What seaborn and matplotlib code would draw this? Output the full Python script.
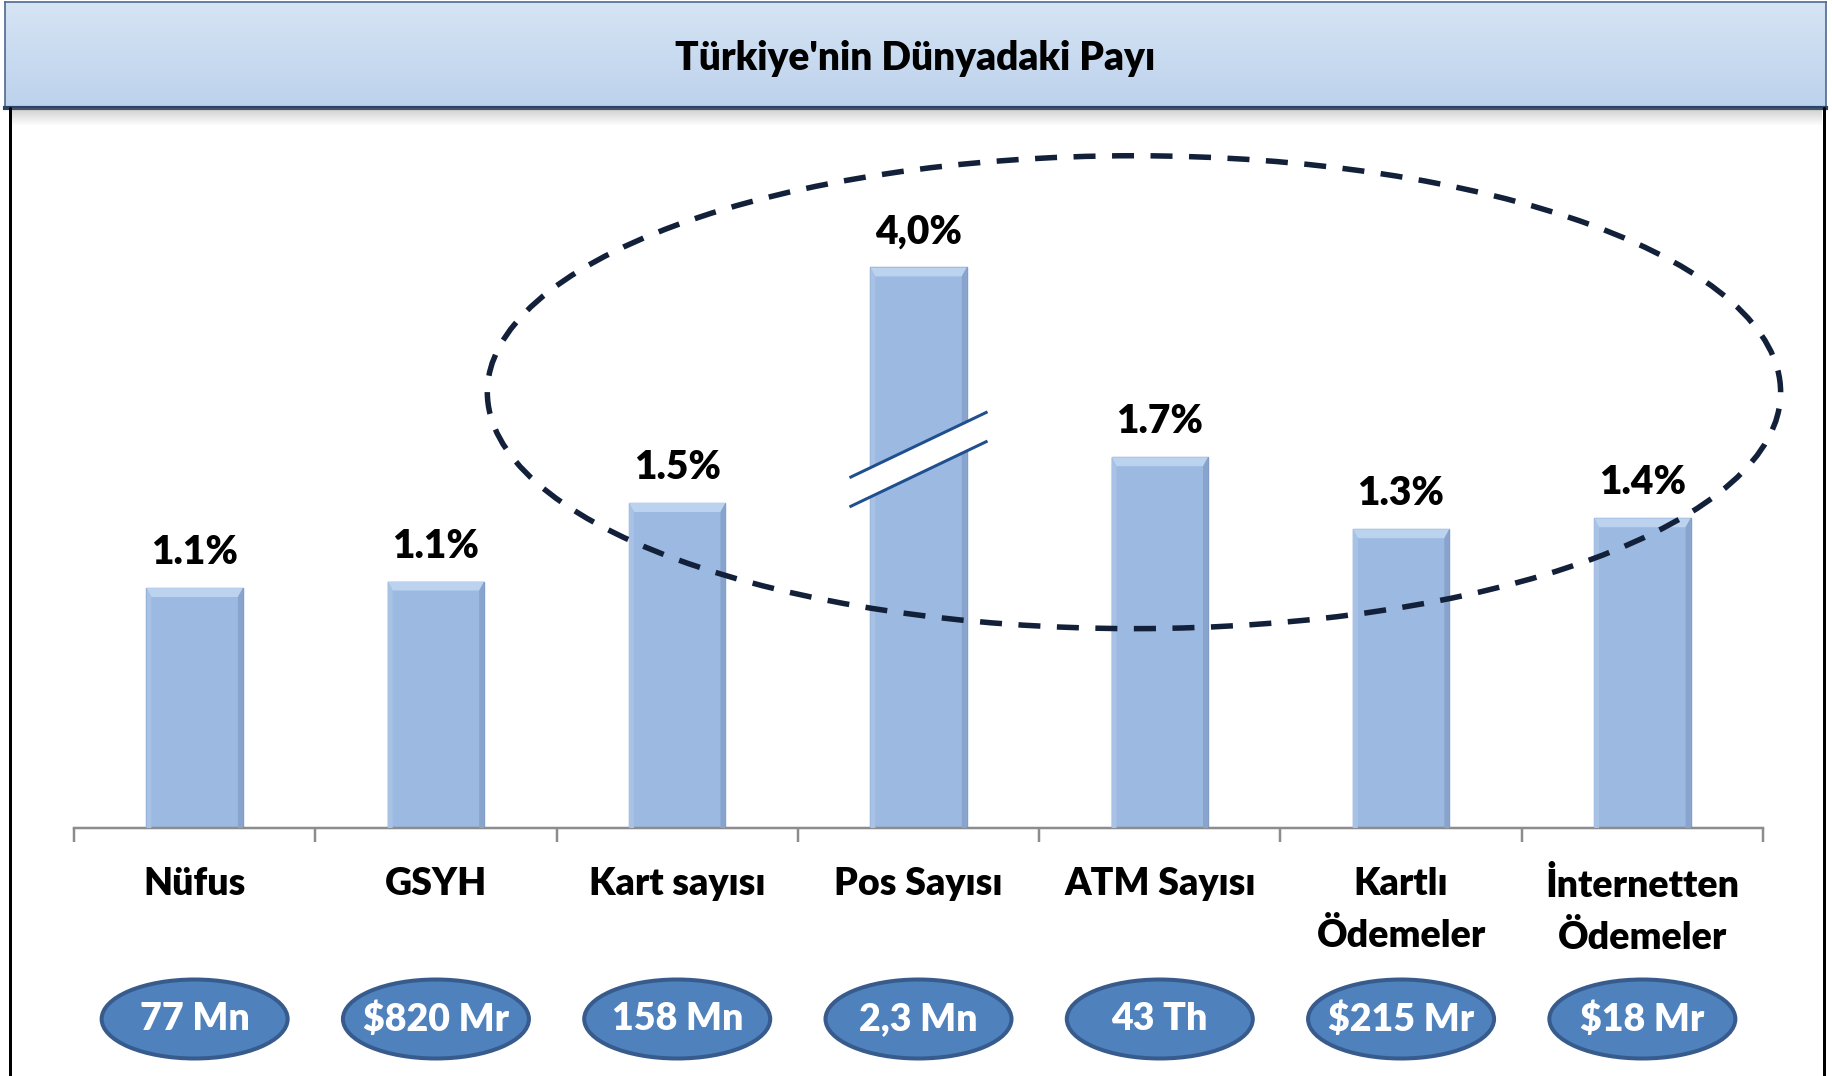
import numpy as np
import pandas as pd
import matplotlib
matplotlib.use("Agg")
import matplotlib.pyplot as plt
import seaborn as sns
from matplotlib.patches import Ellipse, Polygon
from matplotlib.lines import Line2D

# ---------------- data ----------------
title = "Türkiye'nin Dünyadaki Payı"
categories = ["Nüfus", "GSYH", "Kart sayısı", "Pos Sayısı", "ATM Sayısı",
              "Kartlı\nÖdemeler", "İnternetten\nÖdemeler"]
share_labels = ["1.1%", "1.1%", "1.5%", "4,0%", "1.7%", "1.3%", "1.4%"]
# bar heights (%) as drawn; the Pos bar is drawn truncated (axis break)
bar_heights = [1.10, 1.13, 1.49, 2.57, 1.70, 1.37, 1.42]
absolute_labels = ["77 Mn", "$820 Mr", "158 Mn", "2,3 Mn", "43 Th", "$215 Mr", "$18 Mr"]
broken_index = 3

# ---------------- setup ----------------
W, H, DPI = 1833, 1076, 100
sns.set_theme(style="white")
plt.rcParams['font.family'] = ['Lato', 'DejaVu Sans']
WEIGHT = 800

fig = plt.figure(figsize=(W / DPI, H / DPI), dpi=DPI)
fig.patch.set_facecolor('white')


def fx(px):
    return px / W


def fy(py):
    return 1 - py / H


PT = 72 / DPI  # points per pixel

# ---------------- title bar ----------------
tb = fig.add_axes([fx(5), fy(108), fx(1826) - fx(5), 106 / H])
grad = np.linspace(0, 1, 100)[:, None]
c_top = np.array(matplotlib.colors.to_rgb('#d6e4f4'))
c_bot = np.array(matplotlib.colors.to_rgb('#bcd2ec'))
img = c_top[None, None, :] * (1 - grad[..., None]) + c_bot[None, None, :] * grad[..., None]
img = np.repeat(img, 2, axis=1)
tb.imshow(img, aspect='auto', extent=[0, 1, 0, 1], origin='upper')
tb.set_xlim(0, 1)
tb.set_ylim(0, 1)
tb.set_xticks([])
tb.set_yticks([])
for side, sp in tb.spines.items():
    sp.set_visible(True)
    sp.set_color('#4d6a8f')
    sp.set_linewidth(1.2)
tb.spines['bottom'].set_color('#2a4466')
tb.spines['bottom'].set_linewidth(3.0)
tb.text(0.5, 0.47, title, ha='center', va='center', fontsize=28,
        fontweight=WEIGHT, color='black', transform=tb.transAxes)

# shadow under title bar
sh = fig.add_axes([fx(10), fy(126), fx(1822) - fx(10), 18 / H])
a = np.linspace(0.35, 0.0, 50)[:, None]
shimg = np.zeros((50, 2, 4))
shimg[..., :3] = 0.45
shimg[..., 3] = a
sh.imshow(shimg, aspect='auto', extent=[0, 1, 0, 1], origin='upper')
sh.axis('off')

# frame lines
for xpx in (10, 1824):
    fig.add_artist(Line2D([fx(xpx), fx(xpx)], [fy(108), 0], color='black',
                          lw=3 * PT, transform=fig.transFigure))

# ---------------- main bars ----------------
ax = fig.add_axes([fx(74), fy(828), fx(1763) - fx(74), (828 - 130) / H])
ax.set_facecolor('none')
df = pd.DataFrame({"category": categories, "share": bar_heights})
sns.barplot(data=df, x="category", y="share", ax=ax, color="#9bb9e1",
            saturation=1, width=0.4, edgecolor="#7f9dc7", linewidth=1.0)
ax.set_xlim(-0.5, 6.5)
ax.set_ylim(0, 3.2)

xpx_per_unit = (1763 - 74) / 7.0
ypx_per_unit = (828 - 130) / 3.2

# bevel shading on each bar
for p in ax.patches:
    x0, w, h = p.get_x(), p.get_width(), p.get_height()
    dxs = 5 / xpx_per_unit
    dyt = 9 / ypx_per_unit
    ax.add_patch(Polygon([(x0, h), (x0 + w, h), (x0 + w - dxs, h - dyt), (x0 + dxs, h - dyt)],
                         closed=True, fc='#bcd3f0', ec='none', zorder=3))
    ax.add_patch(Polygon([(x0, h), (x0 + dxs, h - dyt), (x0 + dxs, 0), (x0, 0)],
                         closed=True, fc='#a8c2e6', ec='none', zorder=3))
    ax.add_patch(Polygon([(x0 + w, h), (x0 + w - dxs, h - dyt), (x0 + w - dxs, 0), (x0 + w, 0)],
                         closed=True, fc='#88a4cd', ec='none', zorder=3))

# value labels
for i, (lab, h) in enumerate(zip(share_labels, bar_heights)):
    ax.annotate(lab, xy=(i, h), xytext=(0, 24 * PT), textcoords='offset points',
                ha='center', va='baseline', fontsize=28, fontweight=WEIGHT,
                color='black', zorder=6)

# axis break marks on the truncated bar
bp = ax.patches[broken_index]
bx0 = bp.get_x() + bp.get_width() / 2
half = 0.286
brk_mid = 1.69
slope_half = 0.151
gap = 0.067
xl, xr = bx0 - half, bx0 + half
upper = [(xl, brk_mid + gap - slope_half), (xr, brk_mid + gap + slope_half)]
lower = [(xl, brk_mid - gap - slope_half), (xr, brk_mid - gap + slope_half)]
ax.add_patch(Polygon([upper[0], upper[1], lower[1], lower[0]], closed=True,
                     fc='white', ec='none', zorder=4))
for seg in (upper, lower):
    ax.plot([seg[0][0], seg[1][0]], [seg[0][1], seg[1][1]], color='#1f4f8f',
            lw=3 * PT, zorder=5, solid_capstyle='butt')

# dashed highlight ellipse
ax.add_patch(Ellipse((3.893, 1.998), 5.36, 2.168, fill=False,
                     ls=(0, (4, 3)), lw=5.5 * PT, ec='#13203a', clip_on=False, zorder=7))

# axes styling
for s in ('left', 'top', 'right'):
    ax.spines[s].set_visible(False)
ax.spines['bottom'].set_color('#8c8c8c')
ax.spines['bottom'].set_linewidth(2.5 * PT)
ax.set_yticks([])
ax.set_xlabel('')
ax.set_ylabel('')
ax.set_xticks(np.arange(-0.5, 7, 1), minor=True)
ax.tick_params(axis='x', which='minor', bottom=True, length=14 * PT,
               width=2.5 * PT, color='#8c8c8c', direction='out')
ax.tick_params(axis='x', which='major', bottom=True, length=0, pad=28,
               labelsize=27, labelcolor='black')
for lab in ax.get_xticklabels():
    lab.set_fontweight(WEIGHT)
    lab.set_linespacing(1.6)

# ---------------- bottom value ellipses ----------------
ax2 = fig.add_axes([fx(74), fy(1068), fx(1763) - fx(74), (1068 - 970) / H])
ax2.set_xlim(-0.5, 6.5)
ax2.set_ylim(0, 1)
ax2.axis('off')
for i, lab in enumerate(absolute_labels):
    ax2.add_patch(Ellipse((i, 0.5), 186 / xpx_per_unit, 79 / 98, fc='#4f81bd',
                          ec='#375b8c', lw=4 * PT, zorder=2))
    ax2.text(i, 0.5, lab, ha='center', va='center', fontsize=27,
             fontweight=WEIGHT, color='white', parse_math=False, zorder=3)

fig.savefig('out.png', dpi=DPI, facecolor='white')
